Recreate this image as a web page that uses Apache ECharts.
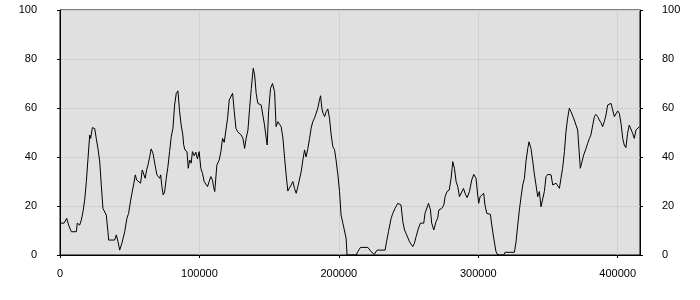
<!DOCTYPE html>
<html>
<head>
<meta charset="utf-8">
<script src="https://cdn.jsdelivr.net/npm/echarts@6/dist/echarts.min.js"></script>
<style>html,body{margin:0;padding:0;background:#fff}#c{width:700px;height:300px}</style>
</head>
<body>
<div id="c"></div>
<script>
var xs = [
600,2900,4800,6200,8100,11700,12400,14100,15300,16500,
17700,18900,20100,21300,22000,23200,24900,26000,27200,28500,
29600,30800,32000,33200,34400,34900,39200,40400,41600,42800,
44400,46400,48000,49200,50700,51600,53000,54000,55000,56400,
57800,59000,60200,61100,62100,63100,64300,65400,66700,67900,
68600,69500,70200,71500,72200,73100,74000,75000,76200,77400,
78600,79800,81000,82200,83400,84600,85700,86900,88100,88700,
89600,91100,92000,93000,94100,95000,96300,97400,98600,99800,
101000,102200,103400,104600,105800,107000,108200,109400,110100,111000,
112500,114200,115400,116600,117800,119000,120200,121400,122600,123800,
125000,126200,127400,128600,129900,131200,132400,133500,134800,136000,
137200,138600,139600,140700,141900,143100,144300,145500,146700,147900,
148600,149600,151000,152400,153900,155000,156300,157500,158600,159900,
161100,162200,163400,164600,165800,167000,168200,169400,170600,171800,
173000,174200,175400,176500,177800,179000,180100,181300,182500,183700,
184900,186100,186900,187800,188700,189800,190900,192100,193300,194500,
195700,196900,198000,199300,200500,201600,202900,204100,205200,205900,
212500,213600,215500,220800,223100,225400,227400,233200,234200,235600,
237500,238700,240300,242300,243500,244600,245900,247100,248200,250700,
253000,254200,255400,257100,258500,260900,261800,264300,265700,266600,
268100,269700,270900,271700,273800,275300,276200,277600,279200,280500,
281700,282900,284100,285300,286500,287900,289400,290500,292000,293700,
295300,296800,298400,299600,300300,301300,302500,303900,304800,306100,
308700,309700,311100,312700,314000,318300,319200,325900,327100,328300,
329500,330700,331900,333100,334200,335500,336400,337800,339100,340300,
341400,342600,343800,345000,346200,347400,348600,349800,352200,353400,
354600,355800,357000,358200,359300,360500,361800,362900,364100,365300,
366500,367700,368900,370100,371300,372200,373200,374400,375600,377300,
378500,379700,380800,382100,383300,384400,385600,386800,388000,389200,
390400,391600,392800,394000,395200,396400,397600,398700,400000,401200,
402400,403600,404700,405900,407100,408300,409500,410700,411900,413100,
414300,415500
];
var ys = [
13,13,15,12.2,9.5,9.5,13,12.2,14.3,17.7,
22.4,30,39.5,49,47.6,52,51.6,47.6,43.5,38,
28.6,19,19,16.3,9.5,6.1,6.1,8.2,5.4,2,
4.8,9.5,15,17,22.4,25.2,29.3,32.7,30.6,31.3,
29.3,34.7,34,31.3,34.7,36.7,40,43.3,41.5,41,
35.4,32.7,33,31.3,32.7,27.9,24.5,25.7,31.3,36,
42.2,48.3,51.7,61.2,66,67,59,53,49,45,
42.9,42.2,35.4,38.8,37.5,42.2,40.5,42,39.2,42.2,
35.4,33.3,30,29.5,27.9,30,32,30.5,27.9,25.9,
36.7,38.8,42.2,47.6,46,51,55.8,63.3,63,66,
58.5,51.7,50.3,49.5,49,47.6,43.5,47.6,51,59.9,
68,76.2,73.5,66,61.9,62.5,61.2,57,53,47.6,
44.9,58.5,68,70,66.7,52.4,54.4,55,52.4,47.6,
39.5,32.7,26.1,26.5,28.6,30,27.2,25.2,27.9,28,
34,38.8,42.9,40,43.5,47.6,51.7,54.4,55.8,56,
59.9,63.3,65,59.9,57.8,56.5,58.5,59.6,55.8,49,
44.2,43,38.8,32.7,25.9,16.3,13,12.2,6.8,0,
0,1.4,3.1,3.1,1.4,0.2,2,2,5.4,9.5,
15,17,19,21.1,21.8,20.4,13.6,10.2,8.8,5.4,
3.4,4.8,7.5,10.9,13,13,17,21.1,18.4,13,
10.2,13.6,15,18.4,19,20.4,23.8,25.9,26.5,31.3,
38.1,35.4,30,27.9,23.8,23.8,27.2,25.2,23.4,25.9,
30.6,32.9,31.3,24.5,21.1,23.8,24,25.2,20.4,17,
16.6,12.2,6.8,1.4,0,0,1.1,1.1,5.4,12.2,
18.4,23.8,28.6,31.3,38.1,43.5,46.2,43.5,38.1,32.7,
28.6,23.8,25.9,19.7,19,25.9,32,32.9,32.7,28.6,
27.9,29.3,28.6,27.2,31.3,35.4,42.2,50.3,55.8,59.9,
58.5,58.8,55.1,53,51,43.5,35.4,38.1,40.8,43.5,
45.6,47.6,49,53,56.5,57.4,56.5,55.1,54,52.4,
54.4,57.1,61.2,60.5,61.9,59.2,56.5,57.1,58.8,57.8,
53.7,47.6,44.9,43.8,49.7,53,52.4,49.7,47.6,51,
51.7,52.4
];
var xMin = 0, xMax = 416000, xStep = 100000;
var yMin = 0, yMax = 100, yStep = 20;

var pts = xs.map(function (x, i) { return [x, ys[i]]; });
var font = 'Liberation Sans';
var lab = { color: '#000', fontSize: 11, fontFamily: font };
function yAx(pos, margin, split) {
  return {
    type: 'value', position: pos, min: yMin, max: yMax, interval: yStep,
    axisLine: { show: true, lineStyle: { color: '#000', width: 1 } },
    axisTick: { show: true, length: 3, lineStyle: { color: '#000' } },
    axisLabel: Object.assign({ margin: margin }, lab),
    splitLine: { show: split, lineStyle: { color: '#d0d0d0', width: 1 } }
  };
}
var chart = echarts.init(document.getElementById('c'), null, { renderer: 'canvas' });
chart.setOption({
  animation: false,
  backgroundColor: '#fff',
  grid: { left: 60, right: 60, top: 10, bottom: 45, show: true,
          backgroundColor: '#e0e0e0', borderColor: '#000', borderWidth: 1 },
  xAxis: {
    type: 'value', min: xMin, max: xMax, interval: xStep,
    axisLine: { show: true, onZero: false, lineStyle: { color: '#000', width: 1 } },
    axisTick: { show: true, length: 3, lineStyle: { color: '#000' } },
    axisLabel: Object.assign({ margin: 13, showMaxLabel: false,
      formatter: function (v) { return String(v); } }, lab),
    splitLine: { show: true, lineStyle: { color: '#d0d0d0', width: 1 } }
  },
  yAxis: [yAx('left', 23, true), yAx('right', 22, false)],
  series: [{
    type: 'line', data: pts, showSymbol: false, symbol: 'none',
    lineStyle: { color: '#000', width: 1 }, z: 3
  }]
});
</script>
</body>
</html>
